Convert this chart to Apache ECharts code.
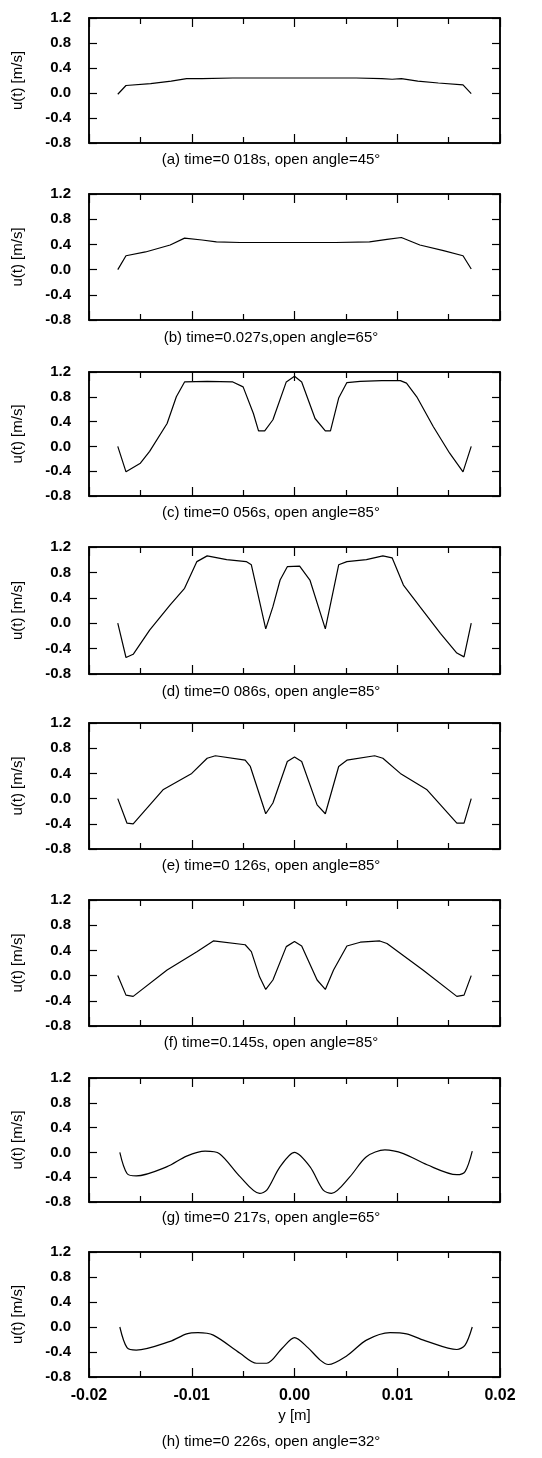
<!DOCTYPE html>
<html>
<head>
<meta charset="utf-8">
<script src="https://cdn.jsdelivr.net/npm/echarts@6/dist/echarts.min.js"></script>
<style>
html, body { margin: 0; padding: 0; background: #fff; }
#chart { width: 542px; height: 1458px; }
</style>
</head>
<body>
<div id="chart"></div>
<script>
// position y [m] and velocity u(t) [m/s]
const yA = [-0.0172, -0.0164, -0.0140, -0.0120, -0.0105, -0.0090, -0.0060, -0.0030, 0.0000, 0.0030, 0.0060, 0.0085, 0.0095, 0.0104, 0.0120, 0.0140, 0.0164, 0.0172];
const uA = [-0.02, 0.12, 0.15, 0.19, 0.23, 0.23, 0.24, 0.24, 0.24, 0.24, 0.24, 0.23, 0.22, 0.23, 0.19, 0.16, 0.13, -0.01];

const yB = [-0.0172, -0.0164, -0.0145, -0.0121, -0.0107, -0.0090, -0.0076, -0.0053, -0.0020, 0.0010, 0.0040, 0.0073, 0.0090, 0.0104, 0.0122, 0.0145, 0.0164, 0.0172];
const uB = [0.00, 0.22, 0.28, 0.39, 0.50, 0.47, 0.44, 0.43, 0.43, 0.43, 0.43, 0.44, 0.48, 0.51, 0.39, 0.30, 0.22, 0.01];

const yC = [-0.0172, -0.0164, -0.0150, -0.0141, -0.0124, -0.0115, -0.0107, -0.0085, -0.0060, -0.0050, -0.0040, -0.0035, -0.0029, -0.0021, -0.0008, 0.0000, 0.0007, 0.0020, 0.0030, 0.0035, 0.0043, 0.0051, 0.0064, 0.0085, 0.0103, 0.0109, 0.0119, 0.0135, 0.0151, 0.0164, 0.0172];
const uC = [0.00, -0.41, -0.27, -0.08, 0.37, 0.80, 1.04, 1.05, 1.04, 0.96, 0.53, 0.25, 0.25, 0.43, 1.04, 1.13, 1.04, 0.45, 0.25, 0.25, 0.78, 1.03, 1.05, 1.06, 1.06, 1.02, 0.80, 0.32, -0.11, -0.41, 0.00];

const yD = [-0.0172, -0.0164, -0.0157, -0.0141, -0.0121, -0.0107, -0.0095, -0.0085, -0.0066, -0.0047, -0.0042, -0.0028, -0.0021, -0.0014, -0.0007, 0.0005, 0.0015, 0.0030, 0.0043, 0.0051, 0.0070, 0.0086, 0.0095, 0.0106, 0.0122, 0.0142, 0.0158, 0.0165, 0.0172];
const uD = [0.00, -0.54, -0.49, -0.11, 0.29, 0.55, 0.97, 1.06, 1.00, 0.97, 0.92, -0.09, 0.26, 0.68, 0.89, 0.90, 0.68, -0.09, 0.92, 0.97, 1.00, 1.06, 1.03, 0.60, 0.26, -0.16, -0.47, -0.53, 0.00];

const yE = [-0.0172, -0.0163, -0.0157, -0.0128, -0.0100, -0.0085, -0.0077, -0.0048, -0.0043, -0.0028, -0.0021, -0.0007, 0.0000, 0.0007, 0.0022, 0.0030, 0.0043, 0.0051, 0.0078, 0.0086, 0.0103, 0.0129, 0.0158, 0.0165, 0.0172];
const uE = [0.00, -0.39, -0.40, 0.14, 0.40, 0.64, 0.68, 0.61, 0.51, -0.24, -0.07, 0.59, 0.66, 0.59, -0.10, -0.24, 0.51, 0.61, 0.68, 0.64, 0.40, 0.14, -0.39, -0.39, 0.00];

const yF = [-0.0172, -0.0164, -0.0157, -0.0124, -0.0095, -0.0079, -0.0048, -0.0042, -0.0034, -0.0028, -0.0021, -0.0008, 0.0000, 0.0007, 0.0022, 0.0030, 0.0038, 0.0051, 0.0064, 0.0083, 0.0090, 0.0125, 0.0158, 0.0165, 0.0172];
const uF = [0.00, -0.31, -0.33, 0.09, 0.38, 0.55, 0.49, 0.38, -0.02, -0.22, -0.07, 0.46, 0.54, 0.47, -0.07, -0.22, 0.09, 0.47, 0.53, 0.55, 0.51, 0.09, -0.33, -0.31, 0.00];

const yG = [-0.0170, -0.0163, -0.0154, -0.0124, -0.0105, -0.0087, -0.0073, -0.0053, -0.0034, -0.0027, -0.0014, 0.0000, 0.0015, 0.0028, 0.0036, 0.0054, 0.0070, 0.0088, 0.0106, 0.0129, 0.0158, 0.0166, 0.0173];
const uG = [0.00, -0.34, -0.38, -0.23, -0.06, 0.02, -0.02, -0.39, -0.66, -0.61, -0.23, 0.00, -0.23, -0.61, -0.66, -0.39, -0.07, 0.04, -0.02, -0.20, -0.36, -0.31, 0.02];

const yH = [-0.0170, -0.0163, -0.0154, -0.0121, -0.0105, -0.0094, -0.0079, -0.0053, -0.0037, -0.0027, -0.0012, 0.0000, 0.0013, 0.0025, 0.0033, 0.0051, 0.0070, 0.0093, 0.0109, 0.0129, 0.0158, 0.0166, 0.0173];
const uH = [0.00, -0.33, -0.37, -0.23, -0.11, -0.09, -0.13, -0.42, -0.58, -0.58, -0.34, -0.17, -0.33, -0.53, -0.60, -0.46, -0.21, -0.09, -0.11, -0.23, -0.36, -0.29, 0.00];

const captions = [
    '(a) time=0 018s, open angle=45°',
    '(b) time=0.027s,open angle=65°',
    '(c) time=0 056s, open angle=85°',
    '(d) time=0 086s, open angle=85°',
    '(e) time=0 126s, open angle=85°',
    '(f) time=0.145s, open angle=85°',
    '(g) time=0 217s, open angle=65°',
    '(h) time=0 226s, open angle=32°'
];

const profiles = [[yA, uA], [yB, uB], [yC, uC], [yD, uD], [yE, uE], [yF, uF], [yG, uG], [yH, uH]];

// layout of the stacked panels
const tops = [18, 194, 372, 547, 723, 900, 1078, 1252];
const heights = [125, 126, 124, 127, 126, 126, 124, 125];
const capCenter = [161, 339, 514, 693, 867, 1044, 1219, 1443];

const font = 'Liberation Sans, Arial, sans-serif';
const last = profiles.length - 1;

let grid = [], xAxis = [], yAxis = [], series = [], title = [];
profiles.forEach((p, i) => {
    grid.push({
        left: 89, width: 411, top: tops[i], height: heights[i],
        show: true, borderColor: '#000', borderWidth: 1.5, backgroundColor: 'transparent'
    });
    ['bottom', 'top'].forEach(pos => {
        const showLab = pos === 'bottom' && i === last;
        xAxis.push({
            type: 'value', gridIndex: i, position: pos,
            min: -0.02, max: 0.02, interval: 0.01,
            axisLine: { show: true, onZero: false, lineStyle: { color: '#000', width: 1.5 } },
            axisTick: { show: true, inside: true, length: 9, lineStyle: { color: '#000', width: 1.2 } },
            minorTick: { show: true, splitNumber: 2, length: 6, lineStyle: { color: '#000', width: 1.2 } },
            splitLine: { show: false },
            axisLabel: {
                show: showLab, margin: 11, color: '#000', fontSize: 16, fontWeight: 'bold', fontFamily: font,
                formatter: v => v.toFixed(2)
            },
            name: showLab ? 'y [m]' : '', nameLocation: 'middle', nameGap: 31,
            nameTextStyle: { color: '#000', fontSize: 15, fontFamily: font }
        });
    });
    ['left', 'right'].forEach(pos => {
        const isLeft = pos === 'left';
        yAxis.push({
            type: 'value', gridIndex: i, position: pos,
            min: -0.8, max: 1.2, interval: 0.4,
            axisLine: { show: true, onZero: false, lineStyle: { color: '#000', width: 1.5 } },
            axisTick: { show: true, inside: true, length: 8, lineStyle: { color: '#000', width: 1.2 } },
            splitLine: { show: false },
            axisLabel: {
                show: isLeft, margin: 18, color: '#000', fontSize: 15, fontWeight: 'bold', fontFamily: font,
                formatter: v => v.toFixed(1)
            },
            name: isLeft ? 'u(t) [m/s]' : '', nameLocation: 'middle', nameGap: 64,
            nameTextStyle: { color: '#000', fontSize: 15, fontFamily: font }
        });
    });
    series.push({
        type: 'line', xAxisIndex: 2 * i, yAxisIndex: 2 * i,
        data: p[0].map((y, j) => [y, p[1][j]]),
        showSymbol: false, smooth: i >= 6 ? 0.3 : false,
        lineStyle: { color: '#000', width: 1.2 },
        animation: false
    });
    title.push({
        text: captions[i], left: 'center', top: capCenter[i] - 9, padding: 0,
        textStyle: { color: '#000', fontSize: 15, fontWeight: 'normal', fontFamily: font }
    });
});

var myChart = echarts.init(document.getElementById('chart'));
myChart.setOption({
    backgroundColor: '#fff',
    animation: false,
    title: title,
    grid: grid,
    xAxis: xAxis,
    yAxis: yAxis,
    series: series
});
</script>
</body>
</html>
